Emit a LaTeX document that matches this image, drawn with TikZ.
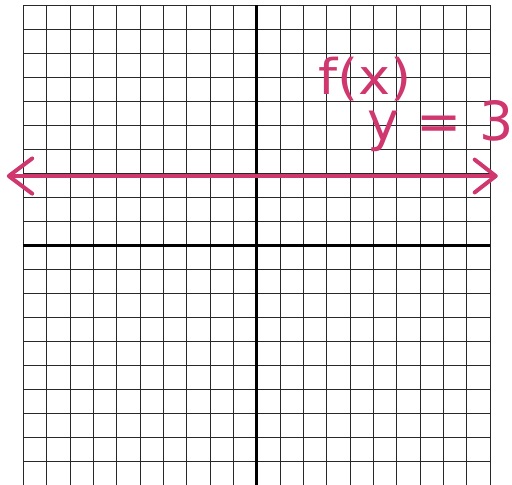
\documentclass[tikz,border=0pt]{standalone}
\usepackage{fontspec}
\usepackage{xcolor}
\usepackage{tikz}
\usetikzlibrary{arrows.meta, positioning}
\newfontfamily\handfont{DejaVu Sans}
\definecolor{GraphPink}{RGB}{207, 55, 110}
\definecolor{GridLine}{RGB}{40, 40, 40}

\begin{document}
\begin{tikzpicture}[x=0.7cm, y=0.72cm,
    gridline/.style={draw=GridLine, line width=0.9pt},
    axisline/.style={draw=black, line width=2.6pt},
    funcline/.style={draw=GraphPink, line width=3.4pt, line cap=round,
      {Straight Barb[round, length=20pt, width=30pt]}-{Straight Barb[round, length=18pt, width=28pt]}},
    handlabel/.style={text=GraphPink, inner sep=0pt, anchor=base west}
  ]
    \useasboundingbox (-11.0,-9.96) rectangle (10.93,10.21);
    % grid
    \foreach \gx in {-10,...,10} {
      \draw[gridline] (\gx,-10.5) -- (\gx,10);
    }
    \foreach \gy in {-10,...,10} {
      \draw[gridline] (-10,\gy) -- (10,\gy);
    }
    % axes
    \draw[axisline] (0,-10.5) -- (0,10);
    \draw[axisline] (-10,0) -- (10,0);
    % constant function
    \coordinate (lefttip) at (-10.71,2.88);
    \coordinate (righttip) at (10.32,2.88);
    \draw[funcline] (lefttip) -- (righttip);
    \node[handlabel, font=\handfont\fontsize{42}{44}\selectfont, xscale=1.1] (fname) at (2.61,6.29) {f(x)};
    \node[handlabel, font=\handfont\fontsize{46}{48}\selectfont] (feq) at (4.75,4.375) {y = 3};
\end{tikzpicture}
\end{document}
